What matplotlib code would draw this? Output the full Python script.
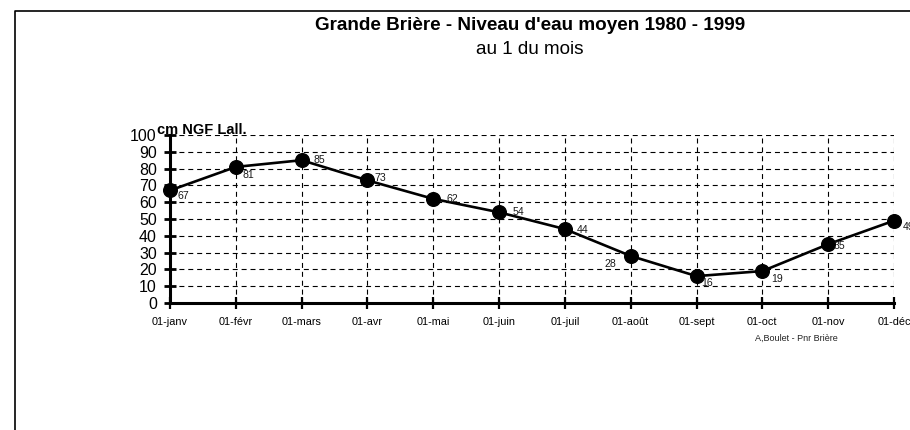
import matplotlib
matplotlib.use("Agg")
import matplotlib.pyplot as plt
from matplotlib.lines import Line2D

plt.rcParams['font.family'] = ['Liberation Sans', 'DejaVu Sans']
plt.rcParams['lines.scale_dashes'] = False

# ---- data ----
months = ["01-janv", "01-févr", "01-mars", "01-avr", "01-mai", "01-juin",
          "01-juil", "01-août", "01-sept", "01-oct", "01-nov", "01-déc"]
levels = [67, 81, 85, 73, 62, 54, 44, 28, 16, 19, 35, 49]
yticks = [0, 10, 20, 30, 40, 50, 60, 70, 80, 90, 100]

title = "Grande Brière - Niveau d'eau moyen 1980 - 1999"
subtitle = "au 1 du mois"
ylabel = "cm NGF Lall."
credit = "A,Boulet - Pnr Brière"

# label placement (pixel offsets from each point, and alignment)
label_offsets = [(8, -6), (7, -8), (12, 0), (7, 2), (13, 0), (13, 0),
                 (12, -1), (-14, -8), (5, -7), (9, -8), (5, -2), (9, -6)]

W, H = 910, 430
fig = plt.figure(figsize=(W / 100, H / 100), dpi=100)
fig.patch.set_facecolor("white")

ax = fig.add_axes([170 / W, (H - 303) / H, (894 - 170) / W, (303 - 135) / H])
x = list(range(len(months)))

ax.plot(x, levels, color="black", lw=1.9, marker="o", markersize=9.8,
        markerfacecolor="black", markeredgecolor="black", clip_on=False, zorder=5)

for xi, v, (dx, dy) in zip(x, levels, label_offsets):
    ax.annotate(str(v), (xi, v), xytext=(dx, dy), textcoords="offset pixels",
                ha="left" if dx >= 0 else "right", va="center",
                fontsize=7.6, color="#1a1a1a", zorder=6, annotation_clip=False)

ax.set_xlim(0, len(months) - 1)
ax.set_ylim(0, 100)
ax.set_xticks(x)
ax.set_xticklabels(months, fontsize=7.8)
ax.set_yticks(yticks)
ax.set_yticklabels([str(t) for t in yticks], fontsize=11.5)

ax.tick_params(axis="y", direction="inout", length=8, width=2.0, pad=5.5, color="black")
ax.tick_params(axis="x", direction="inout", length=8, width=1.6, pad=6, color="black")

for s in ["top", "right"]:
    ax.spines[s].set_visible(False)
for s in ["left", "bottom"]:
    ax.spines[s].set_linewidth(2.2)
    ax.spines[s].set_zorder(4)

# dashed gridlines
for t in yticks[1:]:
    ax.axhline(t, color="black", lw=0.8, linestyle=(0, (3.6, 2.8)), zorder=1)
for xi in x[1:]:
    ax.axvline(xi, color="black", lw=0.8, linestyle=(0, (3.6, 2.8)), zorder=1)

# texts
fig.text(530 / W, (H - 26) / H, title, ha="center", va="center",
         fontsize=13.6, fontweight="bold")
fig.text(530 / W, (H - 50) / H, subtitle, ha="center", va="center", fontsize=13.6)
fig.text(157 / W, (H - 134.5) / H, ylabel, ha="left", va="baseline",
         fontsize=10.5, fontweight="bold")
fig.text(796 / W, (H - 338) / H, credit, ha="center", va="center",
         fontsize=6.5, color="#222222")

# outer frame (top and left visible)
fig.add_artist(Line2D([15 / W, 15 / W, 1.0], [0.0, (H - 11) / H, (H - 11) / H],
                      transform=fig.transFigure, color="black", lw=1.2))

fig.savefig("out.png", dpi=100)
